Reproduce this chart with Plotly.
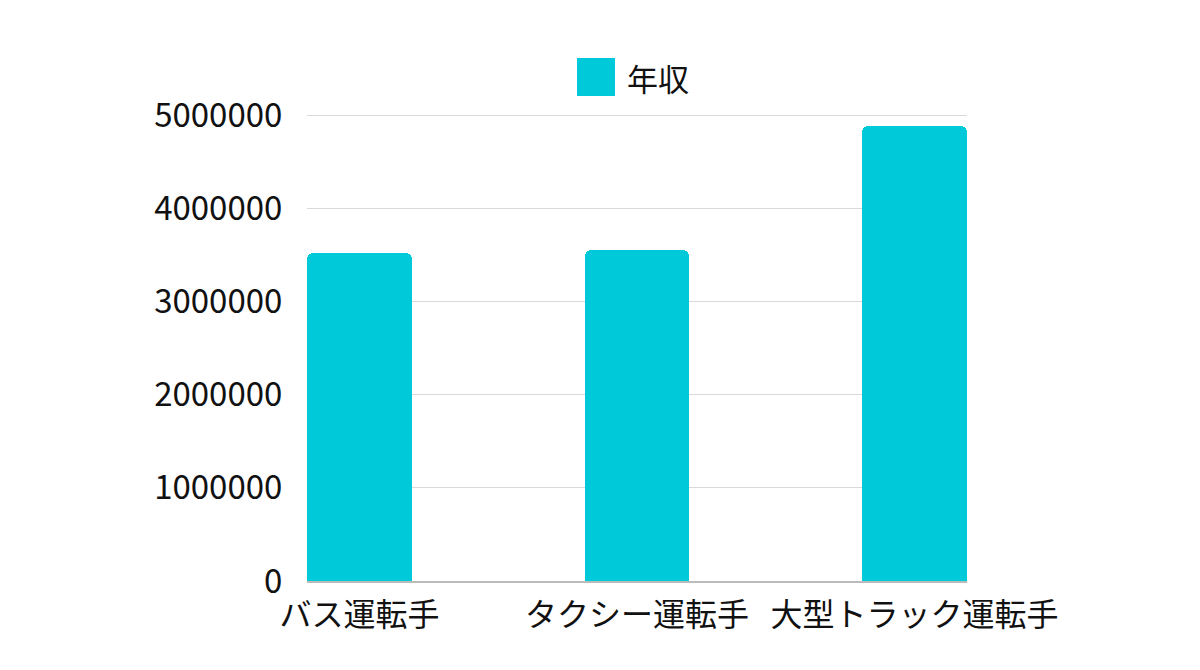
import plotly.graph_objects as go

jobs = ["バス運転手", "タクシー運転手", "大型トラック運転手"]
income = [3520000, 3550000, 4880000]
series_name = "年収"
y_ticks = [0, 1000000, 2000000, 3000000, 4000000, 5000000]

bar_color = "#00C9DA"
font_family = "Noto Sans CJK JP"

# page has an 8px body margin, so the figure is a bit smaller than the window
W, H = 1184, 654
L, R, T, B = 299, 1184 - 959, 106, 654 - 573
pw, ph = W - L - R, H - T - B

fig = go.Figure(
    data=[
        go.Bar(
            x=jobs,
            y=income,
            name=series_name,
            width=0.378,
            marker=dict(color=bar_color, cornerradius=6, line=dict(width=0)),
            showlegend=False,
        )
    ]
)

fig.update_layout(
    width=W,
    height=H,
    margin=dict(l=L, r=R, t=T, b=B),
    plot_bgcolor="white",
    paper_bgcolor="white",
    font=dict(family=font_family, size=32, color="#111111"),
    bargap=0,
)

fig.update_xaxes(
    type="category",
    range=[-0.189, 2.189],
    showgrid=False,
    showline=True,
    linecolor="#BBBBBB",
    linewidth=2,
    ticks="outside",
    ticklen=5,
    tickcolor="rgba(0,0,0,0)",
    tickfont=dict(size=32),
)

fig.update_yaxes(
    range=[0, 5012000],
    tickvals=y_ticks,
    ticktext=[str(v) for v in y_ticks],
    showgrid=True,
    gridcolor="#D9D9D9",
    gridwidth=1,
    zeroline=False,
    showline=False,
    ticks="outside",
    ticklen=17,
    tickcolor="rgba(0,0,0,0)",
    tickfont=dict(size=33),
)

# legend drawn by hand so the swatch can be large
fig.add_shape(
    type="rect", xref="paper", yref="paper",
    x0=(569 - L) / pw, x1=(607 - L) / pw,
    y0=1 + (T - 88) / ph, y1=1 + (T - 50) / ph,
    fillcolor=bar_color, line=dict(width=0),
)
fig.add_annotation(
    text=series_name, xref="paper", yref="paper",
    x=(617 - L) / pw, y=1 + (T - 69) / ph,
    xanchor="left", yanchor="middle", showarrow=False,
    font=dict(size=31, color="#111111"),
)

fig.write_html("out.html")
